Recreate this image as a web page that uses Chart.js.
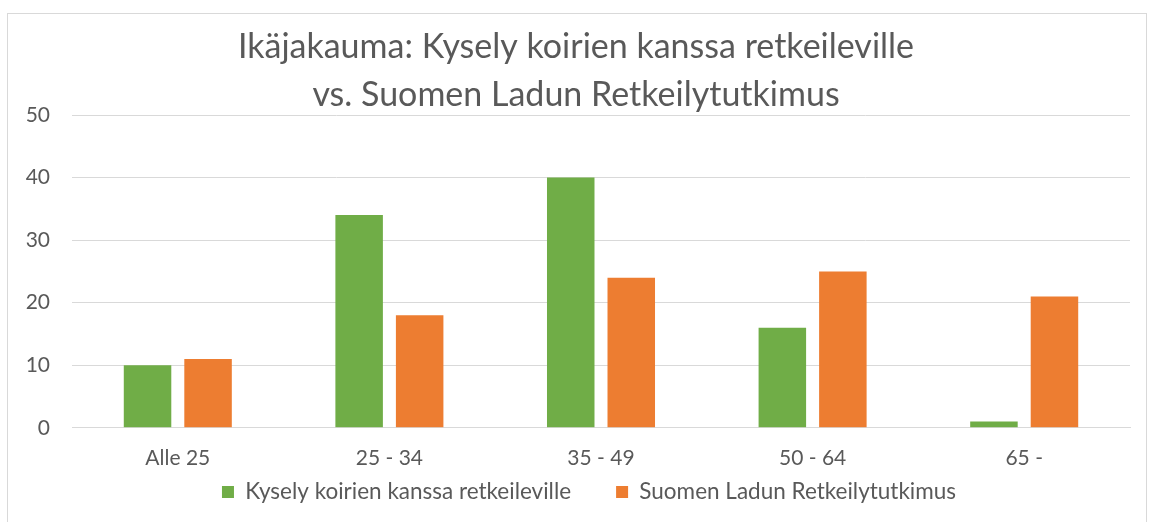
<!DOCTYPE html>
<html>
<head>
<meta charset="utf-8">
<script src="https://cdn.jsdelivr.net/npm/chart.js@4/dist/chart.umd.min.js"></script>
<style>
    html, body { margin: 0; padding: 0; background: #fff; }
    #wrap { position: relative; width: 1150px; height: 522px; overflow: hidden; }
    #frame { position: absolute; left: 7px; top: 13px; width: 1140px; height: 600px; border: 1px solid #d9d9d9; box-sizing: border-box; }
    #chartBox { position: absolute; left: 0; top: 0; width: 1150px; height: 522px; }
</style>
</head>
<body>
<div id="wrap">
    <div id="frame"></div>
    <div id="chartBox"><canvas id="ageChart"></canvas></div>
</div>
<script>
const categories = ['Alle 25', '25 - 34', '35 - 49', '50 - 64', '65 -'];
const dogHikers = [10, 34, 40, 16, 1];
const ladunStudy = [11, 18, 24, 25, 21];
const yTicks = [0, 10, 20, 30, 40, 50];

const textColor = '#595959';
const gridColor = '#d9d9d9';
const fontFamily = 'Lato, "Open Sans", sans-serif';

const LEGEND_GAP = 45;       // space between the two legend entries
const LEGEND_HEIGHT = 33;    // room the legend takes at the bottom
const LEGEND_CENTER_Y = 492; // vertical middle of the legend row
const LEGEND_SHIFT_X = 13;   // legend sits a little right of centre

// legend labels.padding is used both between items and above/below the row,
// so keep the wide gap but give the row a smaller box and pull it up a bit
const legendLayout = {
    id: 'legendLayout',
    beforeLayout(chart) {
        const legend = chart.legend;
        if (!legend || legend._patched) return;
        const fit = legend.fit;
        legend.fit = function () {
            fit.call(this);
            this.height = LEGEND_HEIGHT;
        };
        legend._patched = true;
    },
    afterLayout(chart) {
        const legend = chart.legend;
        const fontSize = legend.options.labels.font.size;
        legend.top = LEGEND_CENTER_Y - fontSize / 2 - LEGEND_GAP;
        legend.bottom = chart.height;  // legend clips to its own box
        legend.left += LEGEND_SHIFT_X;
        legend.right += LEGEND_SHIFT_X;
    }
};

document.addEventListener('DOMContentLoaded', () => {
    const ctx = document.getElementById('ageChart').getContext('2d');

    new Chart(ctx, {
        type: 'bar',
        data: {
            labels: categories,
            datasets: [
                {
                    label: 'Kysely koirien kanssa retkeileville',
                    data: dogHikers,
                    backgroundColor: '#70ad47',
                    barPercentage: 0.785,
                    categoryPercentage: 0.572
                },
                {
                    label: 'Suomen Ladun Retkeilytutkimus',
                    data: ladunStudy,
                    backgroundColor: '#ed7d31',
                    barPercentage: 0.785,
                    categoryPercentage: 0.572
                }
            ]
        },
        options: {
            responsive: true,
            maintainAspectRatio: false,
            animation: false,
            layout: { padding: { left: 22, right: 20, top: 0, bottom: 0 } },
            plugins: {
                title: {
                    display: true,
                    text: ['Ikäjakauma: Kysely koirien kanssa retkeileville', 'vs. Suomen Ladun Retkeilytutkimus'],
                    color: textColor,
                    font: { family: fontFamily, size: 34, weight: 'normal', lineHeight: '48px' },
                    padding: { top: 23, bottom: -4 }
                },
                legend: {
                    position: 'bottom',
                    labels: {
                        color: textColor,
                        font: { family: fontFamily, size: 22.5 },
                        boxWidth: 12,
                        boxHeight: 12,
                        padding: LEGEND_GAP
                    }
                },
                tooltip: { enabled: false }
            },
            scales: {
                x: {
                    grid: { display: false, drawTicks: false },
                    border: { color: gridColor },
                    ticks: { color: textColor, font: { family: fontFamily, size: 21 }, padding: 18 }
                },
                y: {
                    min: 0,
                    max: 50,
                    afterBuildTicks: (scale) => { scale.ticks = yTicks.map(v => ({ value: v })); },
                    afterFit: (scale) => { scale.width = 50; },
                    grid: { color: gridColor, drawTicks: false },
                    border: { display: false },
                    ticks: { color: textColor, font: { family: fontFamily, size: 21 }, padding: 22 }
                }
            }
        },
        plugins: [legendLayout]
    });
});
</script>
</body>
</html>
